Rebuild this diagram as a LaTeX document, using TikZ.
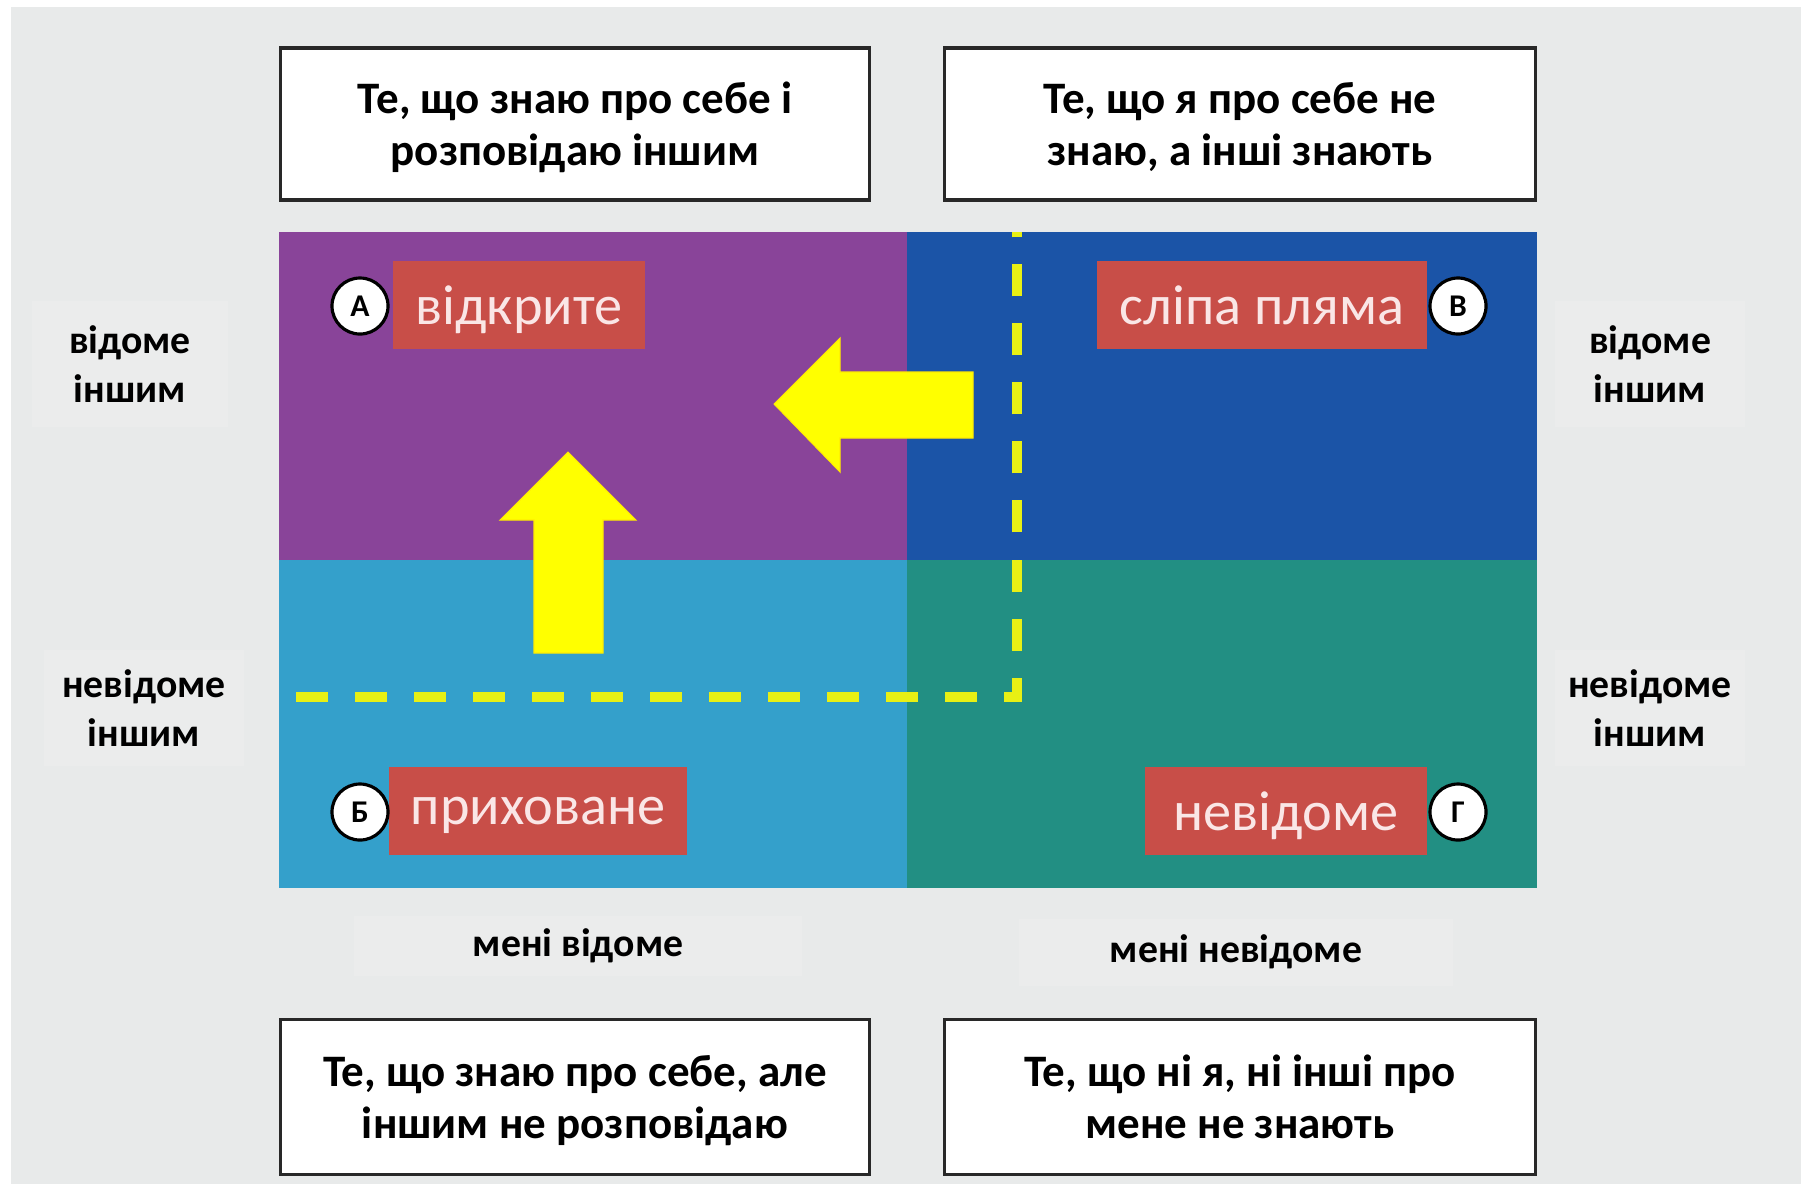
\documentclass[tikz,border=0pt]{standalone}
\usepackage{fontspec}
\setmainfont{Carlito}

\definecolor{bggray}{RGB}{232,234,234}
\definecolor{tagback}{RGB}{235,236,236}
\definecolor{boxline}{RGB}{40,40,40}
\definecolor{openpurple}{RGB}{137,68,153}
\definecolor{blindblue}{RGB}{27,84,167}
\definecolor{hiddenblue}{RGB}{52,160,203}
\definecolor{unknownteal}{RGB}{34,143,131}
\definecolor{labelred}{RGB}{200,78,72}
\definecolor{labeltext}{RGB}{250,230,230}
\definecolor{arrowyellow}{RGB}{255,255,0}
\definecolor{dashyellow}{RGB}{232,240,20}

\begin{document}
\begin{tikzpicture}[x=0.01cm,y=-0.01cm,
	infobox/.style={draw=boxline, line width=0.9pt, fill=white, align=center,
		font=\bfseries\fontsize{12.8}{14.8}\selectfont, inner sep=0pt, text depth=0pt},
	sidetag/.style={fill=tagback, align=center, inner sep=0pt,
		font=\bfseries\fontsize{11.3}{13.7}\selectfont},
	redtag/.style={fill=labelred, text=labeltext, minimum height=0.87cm,
		inner sep=0pt, text depth=0pt, font=\fontsize{16}{19}\selectfont},
	letter/.style={circle, draw=black, line width=0.9pt, fill=white,
		minimum size=0.56cm, inner sep=0pt, font=\bfseries\fontsize{9}{10}\selectfont},
	blockarrow/.style={fill=arrowyellow, draw=arrowyellow!85!orange, line width=0.3pt}]
%	helplines
%	\draw[thin] (0,0) grid[step=1cm] (1801,1184);

	% background
	\fill[white] (0,0) rectangle (1801,1184);
	\fill[bggray] (11,7) rectangle (1801,1184);

	% the four windows
	\fill[openpurple] (279,232) rectangle (907,560);
	\fill[blindblue] (907,232) rectangle (1537,560);
	\fill[hiddenblue] (279,560) rectangle (907,888);
	\fill[unknownteal] (907,560) rectangle (1537,888);

	% captions above and below
	\node (topleft)[infobox, minimum width=5.88cm, minimum height=1.52cm] at (575,124) {Те, що знаю про себе і\\розповідаю іншим};
	\node (topright)[infobox, minimum width=5.91cm, minimum height=1.52cm] at (1240,124) {Те, що я про себе не\\знаю, а інші знають};
	\node (botleft)[infobox, minimum width=5.88cm, minimum height=1.55cm] at (575,1097) {Те, що знаю про себе, але\\іншим не розповідаю};
	\node (botright)[infobox, minimum width=5.91cm, minimum height=1.55cm] at (1240,1097) {Те, що ні я, ні інші про\\мене не знають};

	% side tags
	\node (othersknowL)[sidetag, minimum width=1.95cm, minimum height=1.26cm] at (130,364) {відоме\\іншим};
	\node (othersnotL)[sidetag, minimum width=2.0cm, minimum height=1.15cm] at (144,708) {невідоме\\іншим};
	\node (othersknowR)[sidetag, minimum width=1.9cm, minimum height=1.26cm] at (1650,364) {відоме\\іншим};
	\node (othersnotR)[sidetag, minimum width=1.9cm, minimum height=1.15cm] at (1650,708) {невідоме\\іншим};
	\node (iknow)[sidetag, minimum width=4.48cm, minimum height=0.6cm] at (578,946) {мені відоме};
	\node (inotknow)[sidetag, minimum width=4.34cm, minimum height=0.67cm] at (1236,952) {мені невідоме};

	% yellow dashed border of the open window after feedback
	\draw[dashyellow, line width=0.1cm, dash pattern=on 0.32cm off 0.27cm] (296,697) -- (1017,697) -- (1017,232);

	% arrows
	\draw[blockarrow] (774,404) -- (840,338) -- (840,372) -- (973,372) -- (973,438) -- (840,438) -- (840,472) -- cycle;
	\draw[blockarrow] (568,452) -- (636,520) -- (603,520) -- (603,653) -- (534,653) -- (534,520) -- (500,520) -- cycle;

	% window names
	\node (open)[redtag, minimum width=2.52cm] at (519,305) {відкрите};
	\node (blind)[redtag, minimum width=3.30cm] at (1262,305) {сліпа пляма};
	\node (hidden)[redtag, minimum width=2.98cm] at (538,811) {приховане};
	\node (unknown)[redtag, minimum width=2.82cm] at (1286,811) {невідоме};

	\node (a)[letter] at (360,306) {А};
	\node (b)[letter] at (1458,306) {В};
	\node (c)[letter] at (360,812) {Б};
	\node (d)[letter] at (1458,812) {Г};

	\end{tikzpicture}
\end{document}
